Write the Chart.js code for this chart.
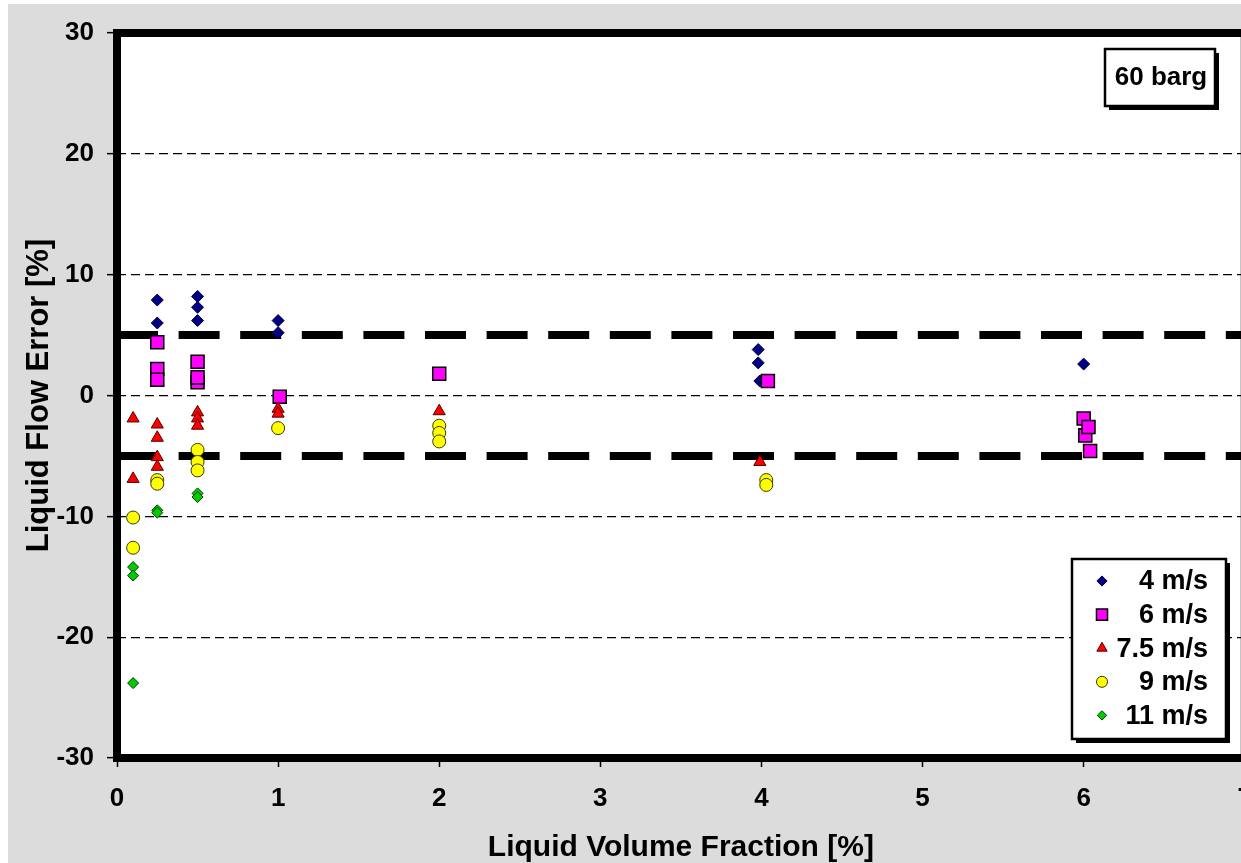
<!DOCTYPE html>
<html>
<head>
<meta charset="utf-8">
<script src="https://cdn.jsdelivr.net/npm/chart.js@4.4.0/dist/chart.umd.min.js"></script>
<style>
html, body { margin: 0; padding: 0; background: #fff; overflow: hidden; width: 1241px; height: 863px; }
#wrap { position: relative; width: 1268px; height: 863px; }
</style>
</head>
<body>
<div id="wrap"><canvas id="chart"></canvas></div>
<script>
// values
const xTicks = [0, 1, 2, 3, 4, 5, 6, 7];
const yTicks = [-30, -20, -10, 0, 10, 20, 30];
const limits = [5, -5];

const v4x = [0.25, 0.25, 0.5, 0.5, 0.5, 1, 1, 3.98, 3.98, 3.99, 6];
const v4y = [7.9, 6.0, 8.2, 7.3, 6.2, 6.2, 5.2, 3.8, 2.7, 1.2, 2.6];

const v6x = [0.25, 0.25, 0.25, 0.5, 0.5, 0.5, 1.01, 2.0, 4.04, 6.0, 6.01, 6.03, 6.04];
const v6y = [4.4, 2.2, 1.3, 1.1, 2.8, 1.5, -0.1, 1.8, 1.2, -1.9, -3.3, -2.6, -4.6];

const v75x = [0.1, 0.1, 0.25, 0.25, 0.25, 0.25, 0.5, 0.5, 0.5, 1, 1, 2, 3.99];
const v75y = [-1.9, -6.9, -2.4, -3.5, -5.1, -5.9, -1.4, -1.9, -2.5, -1.1, -1.5, -1.3, -5.5];

const v9x = [0.1, 0.1, 0.25, 0.25, 0.5, 0.5, 0.5, 1, 2, 2, 2, 4.03, 4.03];
const v9y = [-10.1, -12.6, -7.0, -7.3, -4.5, -5.5, -6.2, -2.7, -2.5, -3.1, -3.8, -7.0, -7.4];

const v11x = [0.1, 0.1, 0.1, 0.25, 0.25, 0.5, 0.5];
const v11y = [-14.2, -14.9, -23.8, -9.5, -9.7, -8.1, -8.4];

const FONT = "'Liberation Sans', Arial, sans-serif";

function pts(xs, ys) {
    return xs.map((x, i) => ({ x: x, y: ys[i] }));
}

function limitLine(v) {
    return {
        type: 'line',
        data: [{ x: xTicks[0], y: v }, { x: xTicks[xTicks.length - 1], y: v }],
        borderColor: '#000',
        borderWidth: 8,
        borderDash: [41, 20.6],
        pointRadius: 0,
        order: 10
    };
}

const series = [
    { label: '4 m/s', data: pts(v4x, v4y), pointStyle: 'rectRot', pointRadius: 6, backgroundColor: '#000080', borderColor: '#00004a', pointBorderWidth: 1, order: 5 },
    { label: '6 m/s', data: pts(v6x, v6y), pointStyle: 'rect', pointRadius: 9.2, backgroundColor: '#ff00ff', borderColor: '#000', pointBorderWidth: 1.5, order: 4 },
    { label: '7.5 m/s', data: pts(v75x, v75y), pointStyle: 'triangle', pointRadius: 7, backgroundColor: '#ff0000', borderColor: '#500000', pointBorderWidth: 1, order: 3 },
    { label: '9 m/s', data: pts(v9x, v9y), pointStyle: 'circle', pointRadius: 6.5, backgroundColor: '#ffff00', borderColor: '#3a3a00', pointBorderWidth: 1, order: 2 },
    { label: '11 m/s', data: pts(v11x, v11y), pointStyle: 'rectRot', pointRadius: 5.5, backgroundColor: '#00cc00', borderColor: '#003a00', pointBorderWidth: 1, order: 1 }
];
series.forEach(s => { s.type = 'scatter'; s.isSeries = true; });

function box(ctx, x, y, w, h) {
    ctx.fillStyle = '#000';
    ctx.fillRect(x + 4, y + 4, w, h);
    ctx.fillStyle = '#fff';
    ctx.fillRect(x, y, w, h);
    ctx.lineWidth = 2.5;
    ctx.strokeStyle = '#000';
    ctx.strokeRect(x, y, w, h);
}

const decor = {
    id: 'decor',
    beforeDraw(chart) {
        const ctx = chart.ctx, a = chart.chartArea;
        ctx.save();
        ctx.fillStyle = '#fff';
        ctx.fillRect(0, 0, chart.width, chart.height);
        ctx.fillStyle = '#dcdcdc';
        ctx.fillRect(8, 4, chart.width, chart.height);
        ctx.fillStyle = '#fff';
        ctx.fillRect(a.left, a.top, a.right - a.left, a.bottom - a.top);
        ctx.restore();
    },
    afterDraw(chart) {
        const ctx = chart.ctx, a = chart.chartArea;
        ctx.save();
        // plot frame
        ctx.lineWidth = 8;
        ctx.strokeStyle = '#000';
        ctx.strokeRect(a.left, a.top, a.right - a.left, a.bottom - a.top);

        // pressure label
        box(ctx, 1105, 49, 110, 57);
        ctx.fillStyle = '#000';
        ctx.font = 'bold 26px ' + FONT;
        ctx.textAlign = 'center';
        ctx.textBaseline = 'middle';
        ctx.fillText('60 barg', 1161, 78);

        // legend
        box(ctx, 1072, 559, 154, 180);
        ctx.textAlign = 'right';
        ctx.font = 'bold 27px ' + FONT;
        chart.data.datasets.filter(d => d.isSeries).forEach((d, i) => {
            const y = 581 + i * 33.6;
            ctx.fillStyle = d.backgroundColor;
            ctx.strokeStyle = d.borderColor;
            ctx.lineWidth = d.pointBorderWidth;
            Chart.helpers.drawPoint(ctx, { pointStyle: d.pointStyle, radius: d.pointRadius * 0.85, rotation: 0, borderWidth: d.pointBorderWidth }, 1102, y);
            ctx.fillStyle = '#000';
            ctx.fillText(d.label, 1208, y + 1);
        });
        ctx.restore();
    }
};

new Chart(document.getElementById('chart'), {
    type: 'scatter',
    data: {
        datasets: [limitLine(limits[0]), limitLine(limits[1])].concat(series)
    },
    options: {
        responsive: true,
        maintainAspectRatio: false,
        animation: false,
        layout: { padding: { top: 33, right: 0, left: 0, bottom: 0 } },
        plugins: {
            legend: { display: false },
            tooltip: { enabled: false }
        },
        scales: {
            x: {
                type: 'linear',
                min: 0,
                max: 7,
                afterBuildTicks: s => { s.ticks = xTicks.map(v => ({ value: v })); },
                afterFit: s => { s.height = 105; },
                grid: { drawOnChartArea: false, tickLength: 9, tickColor: '#000', tickWidth: 1.5 },
                border: { display: false },
                ticks: { color: '#000', font: { family: FONT, size: 26, weight: 'bold' }, padding: 16, maxRotation: 0, autoSkip: false },
                title: { display: true, text: 'Liquid Volume Fraction [%]', color: '#000', font: { family: FONT, size: 30, weight: 'bold', lineHeight: 1 }, padding: { top: 0, bottom: 0 } }
            },
            y: {
                type: 'linear',
                min: -30,
                max: 30,
                afterBuildTicks: s => { s.ticks = yTicks.map(v => ({ value: v })); },
                afterFit: s => { s.width = 117; },
                grid: { color: '#000', lineWidth: 1.3, tickLength: 10, tickColor: '#000', tickWidth: 1.5, tickBorderDash: [] },
                border: { display: false, dash: [9, 5] },
                ticks: { color: '#000', font: { family: FONT, size: 26, weight: 'bold' }, padding: 13 },
                title: { display: true, text: 'Liquid Flow Error [%]', color: '#000', font: { family: FONT, size: 31, weight: 'bold', lineHeight: 1 }, padding: { top: 24, bottom: 0 } }
            }
        }
    },
    plugins: [decor]
});
</script>
</body>
</html>
